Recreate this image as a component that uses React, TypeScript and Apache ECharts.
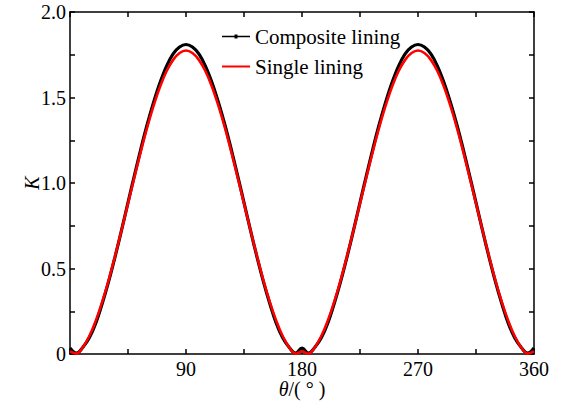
import React, { useEffect, useRef } from "react";
import * as echarts from "echarts";

const thetas = [
  0, 5, 10, 15, 20, 25, 30, 35, 40, 45, 50, 55, 60, 65, 70, 75, 80, 85, 90,
  95, 100, 105, 110, 115, 120, 125, 130, 135, 140, 145, 150, 155, 160, 165, 170, 175, 180,
  185, 190, 195, 200, 205, 210, 215, 220, 225, 230, 235, 240, 245, 250, 255, 260, 265, 270,
  275, 280, 285, 290, 295, 300, 305, 310, 315, 320, 325, 330, 335, 340, 345, 350, 355, 360,
];

const compositeK = [
  0.035, 0.005, 0.04, 0.095, 0.18, 0.295, 0.425, 0.57, 0.725, 0.885, 1.045, 1.2, 1.345, 1.475, 1.59, 1.685, 1.755, 1.795, 1.81,
  1.795, 1.755, 1.685, 1.59, 1.475, 1.345, 1.2, 1.045, 0.885, 0.725, 0.57, 0.425, 0.295, 0.18, 0.095, 0.04, 0.005, 0.035,
  0.005, 0.04, 0.095, 0.18, 0.295, 0.425, 0.57, 0.725, 0.885, 1.045, 1.2, 1.345, 1.475, 1.59, 1.685, 1.755, 1.795, 1.81,
  1.795, 1.755, 1.685, 1.59, 1.475, 1.345, 1.2, 1.045, 0.885, 0.725, 0.57, 0.425, 0.295, 0.18, 0.095, 0.04, 0.005, 0.035,
];

const singleK = [
  0.015, 0.002, 0.04, 0.105, 0.195, 0.305, 0.432, 0.574, 0.725, 0.88, 1.035, 1.186, 1.328, 1.455, 1.566, 1.655, 1.72, 1.76, 1.775,
  1.76, 1.72, 1.655, 1.566, 1.455, 1.328, 1.186, 1.035, 0.88, 0.725, 0.574, 0.432, 0.305, 0.195, 0.105, 0.04, 0.002, 0.015,
  0.002, 0.04, 0.105, 0.195, 0.305, 0.432, 0.574, 0.725, 0.88, 1.035, 1.186, 1.328, 1.455, 1.566, 1.655, 1.72, 1.76, 1.775,
  1.76, 1.72, 1.655, 1.566, 1.455, 1.328, 1.186, 1.035, 0.88, 0.725, 0.574, 0.432, 0.305, 0.195, 0.105, 0.04, 0.002, 0.015,
];

const seriesNames = ["Composite lining", "Single lining"];
const xLabels = [90, 180, 270, 360];
const yLabels = ["0", "0.5", "1.0", "1.5", "2.0"];

const FONT = "Liberation Serif";

function axisLine() {
  return { show: true, onZero: false, lineStyle: { color: "#000", width: 1.5 } };
}
function axisTick() {
  return { show: true, inside: true, length: 5, lineStyle: { color: "#000", width: 1.5 } };
}

export default function App() {
  const ref = useRef<HTMLDivElement>(null);
  useEffect(() => {
    if (!ref.current) return;
    const chart = echarts.init(ref.current, undefined, { renderer: "svg" });
    chart.setOption({
      animation: false,
      backgroundColor: "#fff",
      grid: { left: 70, right: 29, top: 12, bottom: 51, containLabel: false },
      legend: {
        orient: "vertical",
        left: 217,
        top: 21,
        itemWidth: 28,
        itemHeight: 4,
        itemGap: 9,
        textStyle: { fontFamily: FONT, fontSize: 21, color: "#000" },
        data: [
          { name: seriesNames[0], icon: "path://M0,1.2 H28 V2.8 H0 Z M12.5,0 H15.5 V4 H12.5 Z", itemStyle: { color: "#000" } },
          { name: seriesNames[1], icon: "path://M0,0 H0.01 V4 H0 Z M0,1 H28 V3 H0 Z", itemStyle: { color: "#ff0000" } },
        ],
      },
      xAxis: [
        {
          type: "value",
          min: 0,
          max: 360,
          interval: 45,
          position: "bottom",
          axisLine: axisLine(),
          axisTick: axisTick(),
          splitLine: { show: false },
          axisLabel: {
            margin: 5,
            fontFamily: FONT,
            fontSize: 20,
            lineHeight: 20,
            color: "#000",
            formatter: (v: number) => (xLabels.includes(v) ? String(v) : ""),
          },
          name: "{i|θ}/( ° )",
          nameLocation: "middle",
          nameGap: 25,
          nameMoveOverlap: false,
          nameTextStyle: {
            fontFamily: FONT,
            fontSize: 20,
            lineHeight: 20,
            color: "#000",
            rich: { i: { fontFamily: FONT, fontSize: 20, lineHeight: 20, fontStyle: "italic", color: "#000" } },
          },
        },
        {
          type: "value",
          min: 0,
          max: 360,
          interval: 45,
          position: "top",
          axisLine: axisLine(),
          axisTick: axisTick(),
          splitLine: { show: false },
          axisLabel: { show: false },
        },
      ],
      yAxis: [
        {
          type: "value",
          min: 0,
          max: 2,
          interval: 0.25,
          position: "left",
          axisLine: axisLine(),
          axisTick: axisTick(),
          splitLine: { show: false },
          axisLabel: {
            margin: 4,
            fontFamily: FONT,
            fontSize: 20,
            color: "#000",
            formatter: (v: number) => {
              const idx = Math.round(v / 0.5);
              return Math.abs(v - idx * 0.5) < 1e-6 ? yLabels[idx] : "";
            },
          },
          name: "K",
          nameLocation: "middle",
          nameRotate: 90,
          nameGap: 28,
          nameMoveOverlap: false,
          nameTextStyle: { fontFamily: FONT, fontSize: 20, fontStyle: "italic", color: "#000" },
        },
        {
          type: "value",
          min: 0,
          max: 2,
          interval: 0.25,
          position: "right",
          axisLine: axisLine(),
          axisTick: axisTick(),
          splitLine: { show: false },
          axisLabel: { show: false },
        },
      ],
      series: [
        {
          name: seriesNames[0],
          type: "line",
          xAxisIndex: 0,
          yAxisIndex: 0,
          smooth: 0.4,
          showSymbol: false,
          lineStyle: { color: "#000", width: 3.2 },
          itemStyle: { color: "#000" },
          data: thetas.map((t, i) => [t, compositeK[i]]),
        },
        {
          name: seriesNames[1],
          type: "line",
          xAxisIndex: 0,
          yAxisIndex: 0,
          smooth: 0.4,
          showSymbol: false,
          lineStyle: { color: "#ff0000", width: 2.6 },
          itemStyle: { color: "#ff0000" },
          data: thetas.map((t, i) => [t, singleK[i]]),
        },
      ],
    });
    return () => chart.dispose();
  }, []);
  return (
    <div
      ref={ref}
      style={{ position: "absolute", left: 0, top: 0, width: 563, height: 405 }}
    />
  );
}
